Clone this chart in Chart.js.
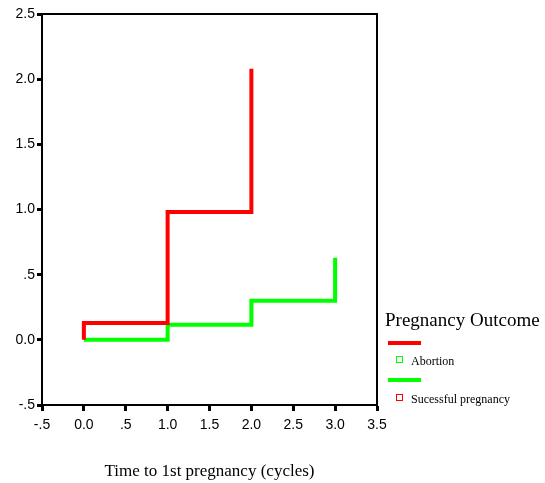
<!DOCTYPE html>
<html>
<head>
<meta charset="utf-8">
<script src="https://cdn.jsdelivr.net/npm/chart.js@4/dist/chart.umd.min.js"></script>
<style>
	body { margin: 0; background: #fff; }
	#wrap { position: relative; width: 545px; height: 483px; }
	.leg { position: absolute; font-family: "Liberation Serif", "Times New Roman", serif; color: #000; white-space: nowrap; }
	.bar { position: absolute; height: 4px; width: 33px; }
	.sq { position: absolute; width: 5px; height: 5px; border: 1px solid; }
</style>
</head>
<body>
<div id="wrap">
	<canvas id="myChart" width="545" height="483"></canvas>
	<div class="leg" style="left:385px; top:309px; font-size:19px;">Pregnancy Outcome</div>
	<div class="bar" style="left:388px; top:341px; background:#ff0000;"></div>
	<div class="sq" style="left:396px; top:356px; border-color:#00ff00;"></div>
	<div class="leg" style="left:411px; top:354px; font-size:12px;">Abortion</div>
	<div class="bar" style="left:388px; top:378px; background:#00ff00;"></div>
	<div class="sq" style="left:396px; top:394px; border-color:#ff0000;"></div>
	<div class="leg" style="left:411px; top:392px; font-size:12px;">Sucessful pregnancy</div>
</div>
<script>
// cumulative hazard by time (cycles)
let tiempoAborto    = [0, 0, 1, 2];
let riesgoAborto    = [0, 0.13, 0.98, 2.08];
let tiempoExito     = [0, 1, 2, 3];
let riesgoExito     = [0, 0.115, 0.30, 0.63];

let xTicks      = [-0.5, 0, 0.5, 1, 1.5, 2, 2.5, 3, 3.5];
let xTickLabels = ['-.5', '0.0', '.5', '1.0', '1.5', '2.0', '2.5', '3.0', '3.5'];
let yTicks      = [-0.5, 0, 0.5, 1, 1.5, 2, 2.5];
let yTickLabels = ['-.5', '0.0', '.5', '1.0', '1.5', '2.0', '2.5'];

function puntos(xs, ys){
	let arr = [];
	for (var i = 0; i < xs.length; i++) {
		arr.push({ x: xs[i], y: ys[i] });
	}
	return arr;
}

function etiqueta(valor, ticks, labels){
	for (var i = 0; i < ticks.length; i++) {
		if (Math.abs(ticks[i] - valor) < 1e-6) return labels[i];
	}
	return '';
}

let marco = {
	id: 'marco',
	afterDatasetsDraw(chart){
		let a = chart.chartArea;
		let ctx = chart.ctx;
		ctx.save();
		ctx.strokeStyle = '#000';
		ctx.lineWidth = 2;
		ctx.strokeRect(a.left, a.top, a.right - a.left, a.bottom - a.top);
		ctx.restore();
	}
};

let ctx = document.getElementById('myChart').getContext('2d');
let chart = new Chart(ctx, {
	type: 'line',
	data: {
		datasets: [{
			label: 'Abortion',
			data: puntos(tiempoAborto, riesgoAborto),
			borderColor: '#ff0000',
			borderWidth: 4,
			stepped: 'before',
			pointRadius: 0,
			fill: false
		}, {
			label: 'Sucessful pregnancy',
			data: puntos(tiempoExito, riesgoExito),
			borderColor: '#00ff00',
			borderWidth: 4,
			stepped: 'before',
			pointRadius: 0,
			fill: false
		}]
	},
	options: {
		responsive: false,
		animation: false,
		layout: { padding: { top: 14, right: 168, bottom: 0, left: 0 } },
		plugins: { legend: { display: false }, tooltip: { enabled: false } },
		scales: {
			x: {
				type: 'linear',
				min: -0.5, max: 3.5,
				afterBuildTicks(scale){ scale.ticks = xTicks.map(v => ({ value: v })); },
				afterFit(scale){ scale.height = 78; },
				ticks: {
					color: '#000',
					font: { family: 'Liberation Sans, Arial', size: 14 },
					padding: 6,
					maxRotation: 0,
					callback: v => etiqueta(v, xTicks, xTickLabels)
				},
				grid: { drawOnChartArea: false, tickLength: 6, tickColor: '#000', tickWidth: 3 },
				border: { color: '#000', width: 2 },
				title: {
					display: true,
					text: 'Time to 1st pregnancy (cycles)',
					color: '#000',
					font: { family: 'Liberation Serif, Times New Roman', size: 17 },
					padding: { top: 0, bottom: 1 }
				}
			},
			y: {
				type: 'linear',
				min: -0.5, max: 2.5,
				afterBuildTicks(scale){ scale.ticks = yTicks.map(v => ({ value: v })); },
				afterFit(scale){ scale.width = 42; },
				ticks: {
					color: '#000',
					font: { family: 'Liberation Sans, Arial', size: 14 },
					padding: 2,
					callback: v => etiqueta(v, yTicks, yTickLabels)
				},
				grid: { drawOnChartArea: false, tickLength: 5, tickColor: '#000', tickWidth: 3 },
				border: { color: '#000', width: 2 }
			}
		}
	},
	plugins: [marco]
});
</script>
</body>
</html>
